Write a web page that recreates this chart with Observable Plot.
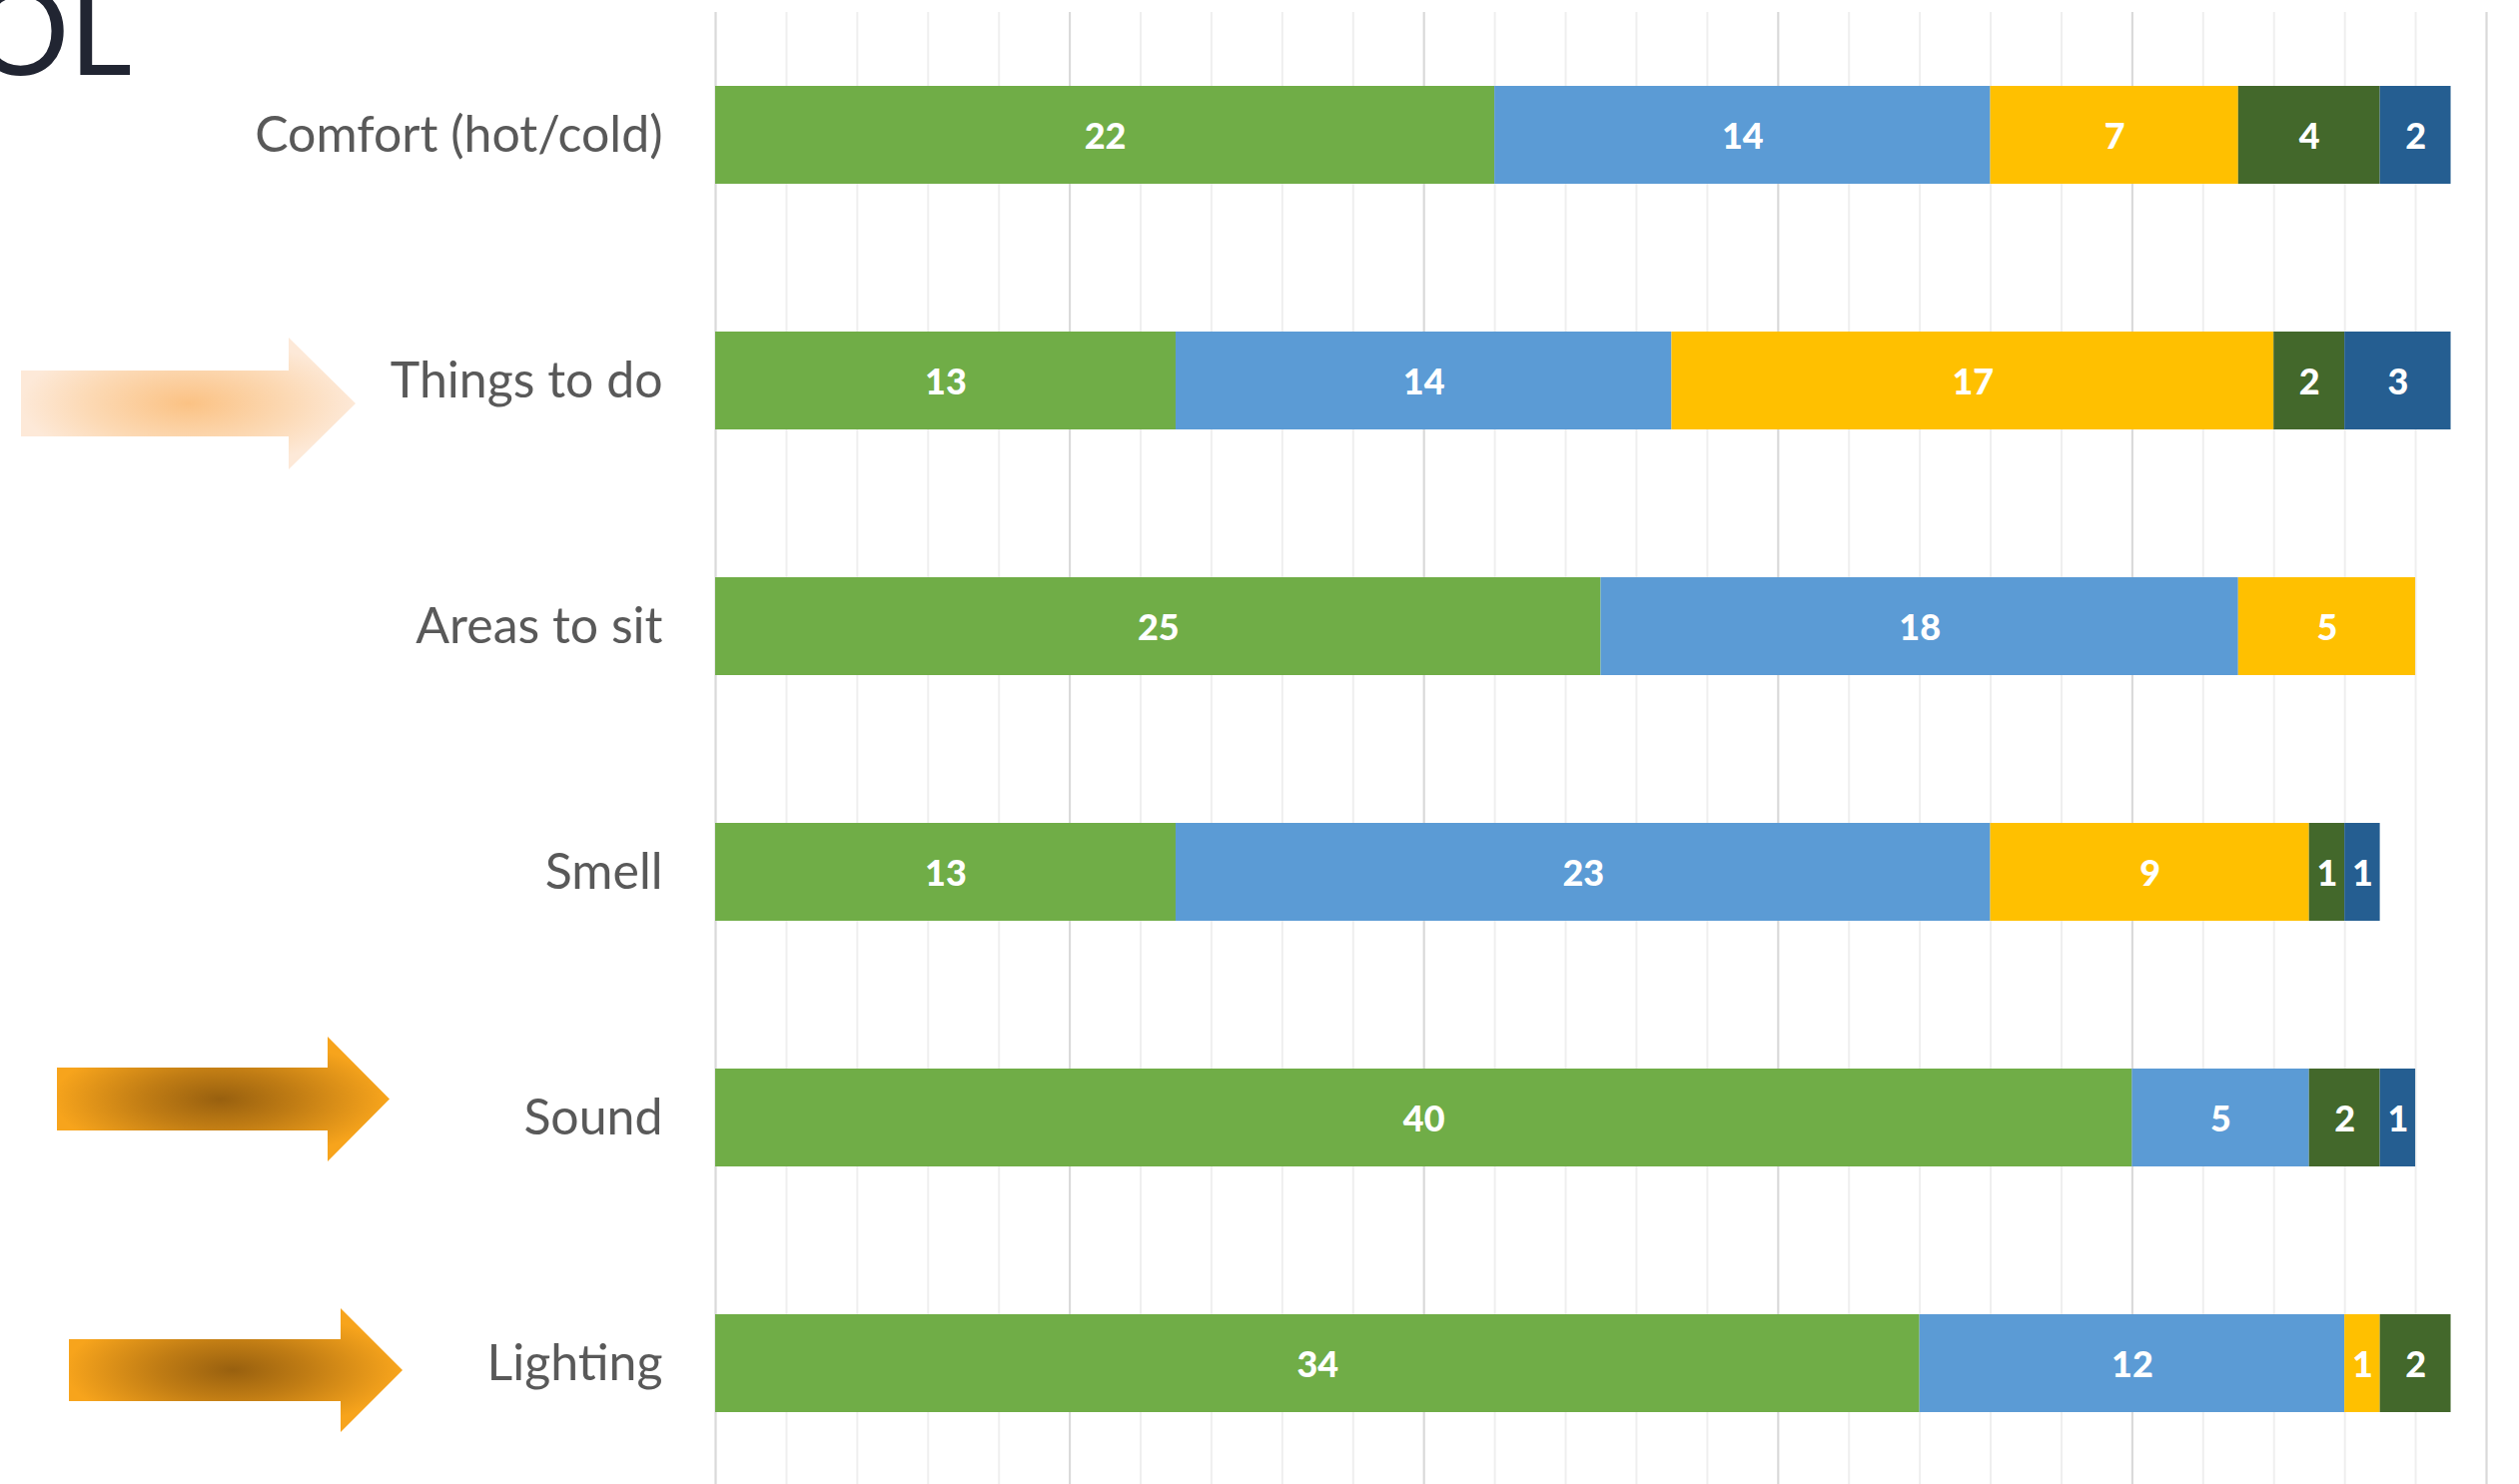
<!DOCTYPE html>
<html>
<head>
<meta charset="utf-8">
<script src="https://cdn.jsdelivr.net/npm/d3@7"></script>
<script src="https://cdn.jsdelivr.net/npm/@observablehq/plot@0.6"></script>
<style>
  html, body { margin: 0; padding: 0; background: #ffffff; overflow: hidden; }
  #chart svg { display: block; overflow: hidden; }
</style>
</head>
<body>
<div id="chart"></div>
<script>
// Survey categories, top to bottom
const categories = ["Comfort (hot/cold)", "Things to do", "Areas to sit", "Smell", "Sound", "Lighting"];

// Response groups, stacked left to right
const seriesNames = ["Response A", "Response B", "Response C", "Response D", "Response E"];
const seriesColors = ["#70AD47", "#5B9BD5", "#FFC000", "#43682B", "#255E91"];

// Counts per category for each response group
const responseA = [22, 13, 25, 13, 40, 34];
const responseB = [14, 14, 18, 23, 5, 12];
const responseC = [7, 17, 5, 9, 0, 1];
const responseD = [4, 2, 0, 1, 2, 2];
const responseE = [2, 3, 0, 1, 1, 0];

// Gridline positions
const majorTicks = [0, 10, 20, 30, 40, 50];
const minorTicks = [0, 2, 4, 6, 8, 10, 12, 14, 16, 18, 20, 22, 24, 26, 28, 30, 32, 34, 36, 38, 40, 42, 44, 46, 48, 50];

const seriesValues = [responseA, responseB, responseC, responseD, responseE];
const rows = [];
categories.forEach((c, i) => {
  seriesNames.forEach((s, j) => {
    rows.push({category: c, series: s, value: seriesValues[j][i]});
  });
});

const W = 2522, H = 1486;

const chart = Plot.plot({
  width: W,
  height: H,
  marginLeft: 716,
  marginRight: 33,
  marginTop: 12,
  marginBottom: 0,
  style: {background: "#ffffff", fontFamily: "Lato, 'Open Sans', sans-serif"},
  x: {domain: [0, 50], axis: null},
  y: {domain: categories, range: [12, 1489], paddingInner: 0.6, paddingOuter: 0.3, label: null},
  color: {domain: seriesNames, range: seriesColors},
  marks: [
    Plot.ruleX(minorTicks, {stroke: "#EFEFEF", strokeWidth: 2}),
    Plot.ruleX(majorTicks, {stroke: "#D9D9D9", strokeWidth: 2}),
    Plot.barX(rows, Plot.stackX({x: "value", y: "category", fill: "series", z: "series", order: seriesNames})),
    Plot.text(rows, Plot.stackX({
      filter: d => d.value > 0,
      x: "value", y: "category", z: "series", order: seriesNames,
      text: d => String(d.value),
      fill: "#ffffff", fontSize: 36, fontWeight: 900, dy: 2
    })),
    Plot.axisY({tickSize: 0, tickPadding: 53, fontSize: 50, fill: "#595959", label: null})
  ]
});

document.getElementById("chart").appendChild(chart);

// Decorations: block arrows pointing at highlighted categories, and the trailing title letters
const svg = d3.select(chart);
const defs = svg.append("defs");

const paleGrad = defs.append("radialGradient").attr("id", "arrowPale")
  .attr("cx", 0.5).attr("cy", 0.5).attr("r", 0.5);
paleGrad.append("stop").attr("offset", "0%").attr("stop-color", "#FBC284");
paleGrad.append("stop").attr("offset", "60%").attr("stop-color", "#FCD9B4");
paleGrad.append("stop").attr("offset", "100%").attr("stop-color", "#FDE9D8");

const boldGrad = defs.append("radialGradient").attr("id", "arrowBold")
  .attr("cx", 0.49).attr("cy", 0.5).attr("r", 0.5);
boldGrad.append("stop").attr("offset", "0%").attr("stop-color", "#98600F");
boldGrad.append("stop").attr("offset", "45%").attr("stop-color", "#C07C14");
boldGrad.append("stop").attr("offset", "100%").attr("stop-color", "#F7A41C");

const arrows = [
  {x0: 21, xb: 289, xt: 356, st: 371, sb: 437, ht: 338, hb: 470, fill: "url(#arrowPale)"},
  {x0: 57, xb: 328, xt: 390, st: 1069, sb: 1132, ht: 1038, hb: 1163, fill: "url(#arrowBold)"},
  {x0: 69, xb: 341, xt: 403, st: 1341, sb: 1403, ht: 1310, hb: 1434, fill: "url(#arrowBold)"}
];
arrows.forEach(a => {
  const mid = (a.ht + a.hb) / 2;
  const pts = [[a.x0, a.st], [a.xb, a.st], [a.xb, a.ht], [a.xt, mid], [a.xb, a.hb], [a.xb, a.sb], [a.x0, a.sb]];
  svg.append("path")
    .attr("d", "M" + pts.map(p => p.join(",")).join("L") + "Z")
    .attr("fill", a.fill);
});

svg.append("text")
  .attr("x", 132).attr("y", 75)
  .attr("text-anchor", "end")
  .attr("font-family", "Lato, 'Open Sans', sans-serif")
  .attr("font-weight", 400)
  .attr("font-size", 122)
  .attr("fill", "#212532")
  .text("OL");
</script>
</body>
</html>
